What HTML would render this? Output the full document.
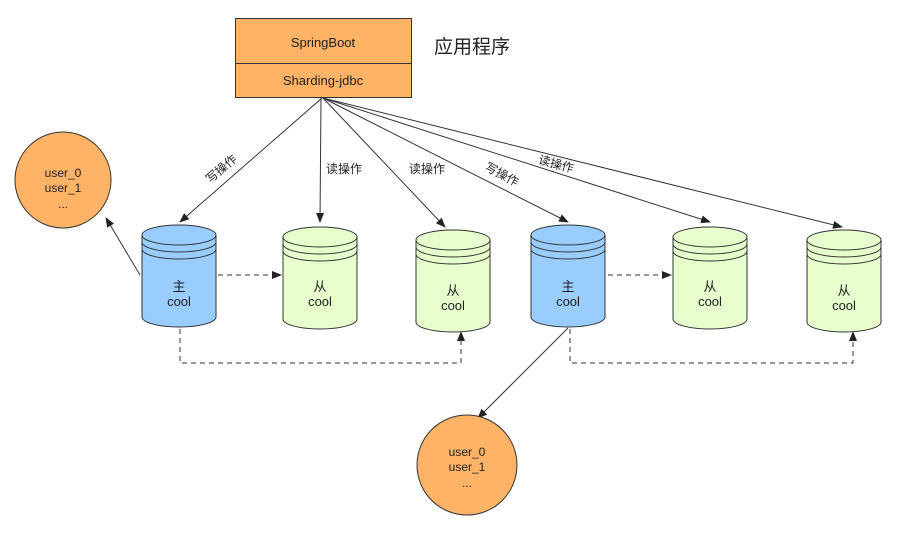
<!DOCTYPE html>
<html><head><meta charset="utf-8"><style>
body{margin:0;background:#fff}
text{font-family:"Liberation Sans","Noto Sans CJK SC",sans-serif;}
</style></head><body>
<svg width="905" height="529" viewBox="0 0 905 529" xmlns="http://www.w3.org/2000/svg">
<defs>
<marker id="a" markerWidth="10" markerHeight="10" refX="9" refY="5" orient="auto" markerUnits="userSpaceOnUse"><path d="M0,1 L10,5 L0,9 Z" fill="#222"/></marker>
<g id="cb"><path d="M0,10 A37,10 0 0 1 74,10 V92 A37,10 0 0 1 0,92 Z" stroke="#333" stroke-width="1"/><path d="M0,10 A37,10 0 0 0 74,10 M0,17 A37,10 0 0 0 74,17 M0,24 A37,10 0 0 0 74,24" fill="none" stroke="#333"/></g>
</defs>
<rect x="235.5" y="18.5" width="176" height="79" fill="#ffb366" stroke="#333"/>
<line x1="235" y1="63.5" x2="411" y2="63.5" stroke="#333"/>
<text x="323" y="47" font-size="13" text-anchor="middle" fill="#222">SpringBoot</text>
<text x="323" y="85" font-size="13" text-anchor="middle" fill="#222">Sharding-jdbc</text>
<text x="434" y="53" font-size="19" fill="#222">应用程序</text>
<g stroke="#333" fill="none" marker-end="url(#a)">
<line x1="322" y1="98" x2="180" y2="222"/>
<line x1="321" y1="98" x2="320" y2="222"/>
<line x1="323" y1="98" x2="445" y2="227"/>
<line x1="323" y1="98" x2="568" y2="222"/>
<line x1="323" y1="98" x2="710" y2="222"/>
<line x1="323" y1="98" x2="842" y2="227"/>
<line x1="140" y1="275" x2="106" y2="218"/>
<line x1="568" y1="328" x2="478" y2="418"/>
<g stroke-dasharray="5,4"><line x1="218" y1="275" x2="281" y2="275"/>
<polyline points="180,329 180,363 461,363 461,332"/>
<line x1="608" y1="275" x2="671" y2="275"/>
<polyline points="570,329 570,363 853,363 853,332"/></g>
</g>
<g font-size="12" fill="#222">
<text transform="translate(224,172) rotate(-40)" text-anchor="middle">写操作</text>
<text x="326" y="173">读操作</text>
<text x="409" y="173">读操作</text>
<text transform="translate(500,178) rotate(28)" text-anchor="middle">写操作</text>
<text transform="translate(555,168) rotate(15)" text-anchor="middle">读操作</text>
</g>
<use href="#cb" x="142" y="225" fill="#99ccff"/>
<use href="#cb" x="283" y="227" fill="#e6ffcc"/>
<use href="#cb" x="416" y="230" fill="#e6ffcc"/>
<use href="#cb" x="531" y="225" fill="#99ccff"/>
<use href="#cb" x="673" y="227" fill="#e6ffcc"/>
<use href="#cb" x="807" y="230" fill="#e6ffcc"/>
<g font-size="13" fill="#222" text-anchor="middle">
<text x="179" y="291">主</text><text x="179" y="306">cool</text>
<text x="320" y="291">从</text><text x="320" y="306">cool</text>
<text x="453" y="295">从</text><text x="453" y="310">cool</text>
<text x="568" y="291">主</text><text x="568" y="306">cool</text>
<text x="710" y="291">从</text><text x="710" y="306">cool</text>
<text x="844" y="295">从</text><text x="844" y="310">cool</text>
</g>
<circle cx="63" cy="180" r="48" fill="#ffb366" stroke="#333"/>
<circle cx="467" cy="465" r="50" fill="#ffb366" stroke="#333"/>
<g font-size="12" fill="#222" text-anchor="middle">
<text x="63" y="177">user_0</text><text x="63" y="192">user_1</text><text x="63" y="208">...</text>
<text x="467" y="456">user_0</text><text x="467" y="471">user_1</text><text x="467" y="487">...</text>
</g>
</svg>
</body></html>
